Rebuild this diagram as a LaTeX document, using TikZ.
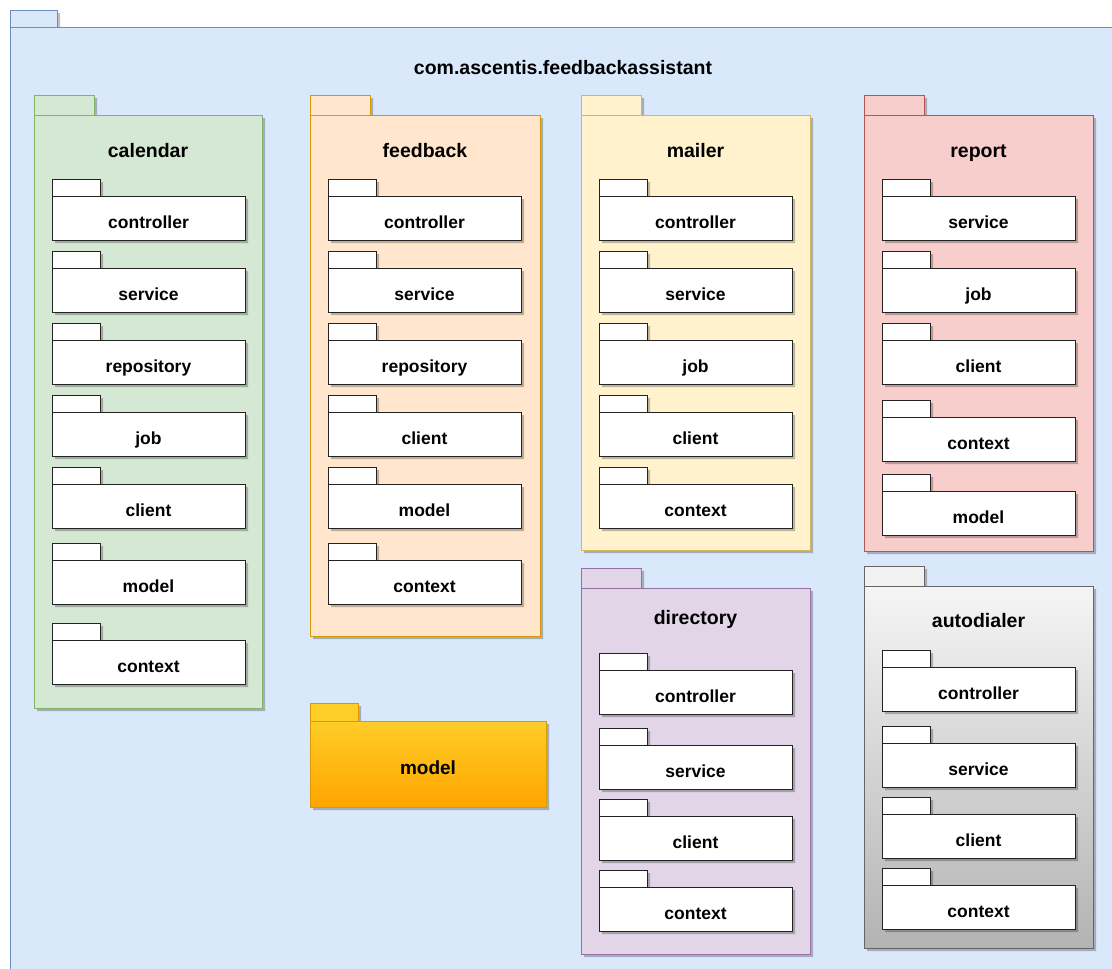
\documentclass[tikz,border=0pt]{standalone}
\usepackage{fontspec}
\setmainfont{Liberation Sans}
\usetikzlibrary{calc}

\definecolor{rootfill}{HTML}{DAE8FC}
\definecolor{rootline}{HTML}{6C8EBF}
\definecolor{greenfill}{HTML}{D5E8D4}
\definecolor{greenline}{HTML}{82B366}
\definecolor{peachfill}{HTML}{FFE6CC}
\definecolor{peachline}{HTML}{D79B00}
\definecolor{yellowfill}{HTML}{FFF2CC}
\definecolor{yellowline}{HTML}{D6B656}
\definecolor{redfill}{HTML}{F8CECC}
\definecolor{redline}{HTML}{B85450}
\definecolor{purplefill}{HTML}{E1D5E7}
\definecolor{purpleline}{HTML}{9673A6}
\definecolor{greytop}{HTML}{F5F5F5}
\definecolor{greybottom}{HTML}{B3B3B3}
\definecolor{greyline}{HTML}{666666}
\definecolor{ambertop}{HTML}{FFCD28}
\definecolor{amberbottom}{HTML}{FFA500}
\definecolor{subline}{HTML}{222222}

\tikzset{
  pkgshadow/.style={fill=black, opacity=0.25},
  pkgpart/.style={rectangle, draw, line width=1pt, anchor=north west,
                  inner sep=0pt, outer sep=0pt},
  rootstyle/.style={fill=rootfill, draw=rootline},
  calstyle/.style={fill=greenfill, draw=greenline},
  fbstyle/.style={fill=peachfill, draw=peachline},
  mailstyle/.style={fill=yellowfill, draw=yellowline},
  repstyle/.style={fill=redfill, draw=redline},
  dirstyle/.style={fill=purplefill, draw=purpleline},
  autotab/.style={fill=greytop!95!greybottom, draw=greyline},
  autostyle/.style={top color=greytop, bottom color=greybottom, draw=greyline},
  ambertab/.style={fill=ambertop, draw=peachline},
  amberstyle/.style={top color=ambertop, bottom color=amberbottom, draw=peachline},
  substyle/.style={fill=white, draw=subline},
  sublabel/.style={font=\fontsize{17.5}{20}\bfseries\selectfont, anchor=base, inner sep=0pt},
  pkglabel/.style={font=\fontsize{19.5}{22}\bfseries\selectfont, anchor=base, inner sep=0pt},
}

% UML package: #1 name, #2 body style, #3 x, #4 top of tab, #5 width,
% #6 body height, #7 tab width, #8 tab height, #9 tab style
\newcommand{\umlpkg}[9]{%
  \fill[pkgshadow] ({#3+3},{#4+3}) rectangle ++(#7,#8)
                   ({#3+3},{#4+#8+3}) rectangle ++(#5,#6);
  \node[pkgpart,#9,minimum width=#7pt,minimum height=#8pt] (#1-tab) at (#3,#4) {};
  \node[pkgpart,#2,minimum width=#5pt,minimum height=#6pt] (#1) at (#3,{#4+#8}) {};
}

% nested sub-package: #1 name, #2 x, #3 top of tab, #4 text
\newcommand{\subpkg}[4]{%
  \umlpkg{#1}{substyle}{#2}{#3}{193}{44}{48}{17}{substyle}
  \node[sublabel] (#1-text) at ({#2+96.5},{#3+49}) {#4};
}

% top-level package with its title: #1 name, #2 style, #3 tab style, #4 x,
% #5 top of tab, #6 width, #7 body height, #8 title centre y, #9 title
\newcommand{\bigpkg}[9]{%
  \umlpkg{#1}{#2}{#4}{#5}{#6}{#7}{60}{20}{#3}
  \node[pkglabel] (#1-text) at ({#4+#6/2},{#8+7}) {#9};
}

\begin{document}
\begin{tikzpicture}[x=1pt,y=-1pt]
  \useasboundingbox (0,0) rectangle (1112,969);
  \fill[white] (0,0) rectangle (1112,969);
  \clip (0,0) rectangle (1112,969);

  % enclosing package
  \umlpkg{root}{rootstyle}{10}{10}{1130}{980}{47}{17}{rootstyle}
  \node[pkglabel] (root-text) at (563,74) {com.ascentis.feedbackassistant};

  % calendar
  \bigpkg{cal}{calstyle}{calstyle}{34}{95}{228}{593}{150}{calendar}
  \subpkg{cal-controller}{52}{179}{controller}
  \subpkg{cal-service}{52}{251}{service}
  \subpkg{cal-repository}{52}{323}{repository}
  \subpkg{cal-job}{52}{395}{job}
  \subpkg{cal-client}{52}{467}{client}
  \subpkg{cal-model}{52}{543}{model}
  \subpkg{cal-context}{52}{623}{context}

  % feedback
  \bigpkg{fb}{fbstyle}{fbstyle}{310}{95}{230}{521}{150}{feedback}
  \subpkg{fb-controller}{328}{179}{controller}
  \subpkg{fb-service}{328}{251}{service}
  \subpkg{fb-repository}{328}{323}{repository}
  \subpkg{fb-client}{328}{395}{client}
  \subpkg{fb-model}{328}{467}{model}
  \subpkg{fb-context}{328}{543}{context}

  % mailer
  \bigpkg{mail}{mailstyle}{mailstyle}{581}{95}{229}{435}{150}{mailer}
  \subpkg{mail-controller}{599}{179}{controller}
  \subpkg{mail-service}{599}{251}{service}
  \subpkg{mail-job}{599}{323}{job}
  \subpkg{mail-client}{599}{395}{client}
  \subpkg{mail-context}{599}{467}{context}

  % report
  \bigpkg{rep}{repstyle}{repstyle}{864}{95}{229}{436}{150}{report}
  \subpkg{rep-service}{882}{179}{service}
  \subpkg{rep-job}{882}{251}{job}
  \subpkg{rep-client}{882}{323}{client}
  \subpkg{rep-context}{882}{400}{context}
  \subpkg{rep-model}{882}{474}{model}

  % directory
  \bigpkg{dir}{dirstyle}{dirstyle}{581}{568}{229}{366}{617}{directory}
  \subpkg{dir-controller}{599}{653}{controller}
  \subpkg{dir-service}{599}{728}{service}
  \subpkg{dir-client}{599}{799}{client}
  \subpkg{dir-context}{599}{870}{context}

  % autodialer
  \bigpkg{auto}{autostyle}{autotab}{864}{566}{229}{362}{620}{autodialer}
  \subpkg{auto-controller}{882}{650}{controller}
  \subpkg{auto-service}{882}{726}{service}
  \subpkg{auto-client}{882}{797}{client}
  \subpkg{auto-context}{882}{868}{context}

  % shared model package
  \umlpkg{model}{amberstyle}{310}{703}{236}{86}{48}{18}{ambertab}
  \node[pkglabel,font=\fontsize{19}{22}\bfseries\selectfont] (model-text) at (428,774) {model};
\end{tikzpicture}
\end{document}
